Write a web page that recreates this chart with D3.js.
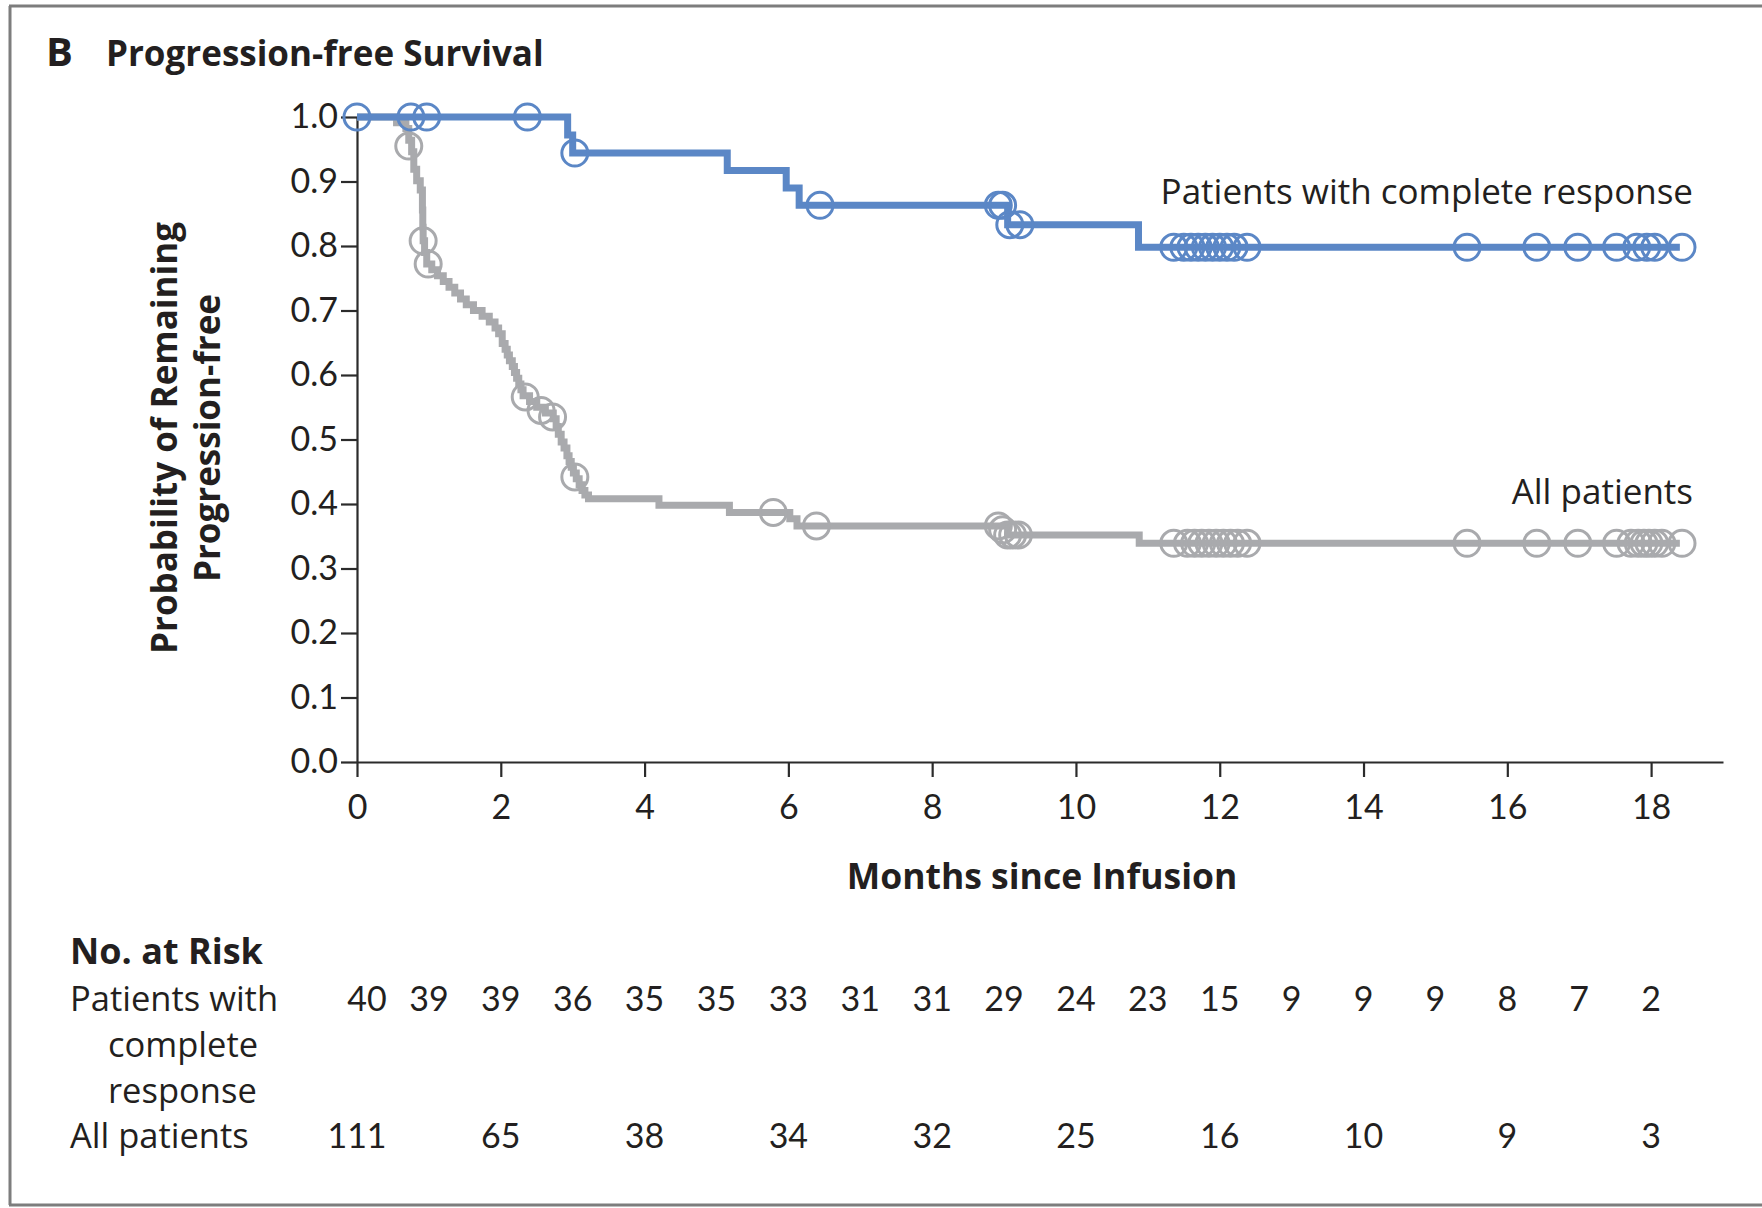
<!DOCTYPE html>
<html>
<head>
<meta charset="utf-8">
<script src="https://cdn.jsdelivr.net/npm/d3@7"></script>
<style>
  body { margin: 0; background: #fff; }
  svg { display: block; }
  text { font-family: "Open Sans", Lato, sans-serif; fill: #231f20; }
  text.num { font-family: Lato, "Open Sans", sans-serif; }
</style>
</head>
<body>
<svg id="chart" width="1762" height="1208"></svg>
<script>
// Kaplan-Meier steps: [month, probability after the step]
const completeSteps = [[0, 1], [2.93, 0.972], [3.0, 0.944], [5.15, 0.917], [5.97, 0.890],
  [6.15, 0.863], [9.05, 0.833], [10.87, 0.798], [18.4, 0.798]];
const allSteps = [[0, 1], [0.55, 0.991], [0.68, 0.982], [0.72, 0.964], [0.76, 0.946], [0.79, 0.919],
  [0.83, 0.901], [0.88, 0.887], [0.91, 0.856], [0.915, 0.829], [0.92, 0.808], [0.94, 0.79],
  [0.97, 0.772], [1.04, 0.763], [1.12, 0.754], [1.2, 0.745], [1.28, 0.736], [1.36, 0.727],
  [1.44, 0.718], [1.52, 0.709], [1.62, 0.70], [1.74, 0.691], [1.84, 0.682], [1.92, 0.673],
  [1.97, 0.664], [2.02, 0.649], [2.06, 0.640], [2.09, 0.631], [2.12, 0.622], [2.16, 0.613],
  [2.19, 0.604], [2.22, 0.595], [2.25, 0.586], [2.28, 0.577], [2.31, 0.568], [2.4, 0.559],
  [2.5, 0.550], [2.62, 0.541], [2.73, 0.532], [2.77, 0.520], [2.8, 0.508], [2.84, 0.496],
  [2.88, 0.487], [2.92, 0.475], [2.95, 0.466], [2.98, 0.457], [3.01, 0.448], [3.05, 0.439],
  [3.09, 0.430], [3.13, 0.421], [3.17, 0.414], [3.22, 0.408], [4.2, 0.398], [5.18, 0.387],
  [6.02, 0.377], [6.12, 0.366], [9.05, 0.352], [10.88, 0.339], [18.4, 0.339]];

// Censored observations: [month, probability]
const completeCensored = [[0, 1], [0.75, 1], [0.97, 1], [2.37, 1], [3.03, 0.944], [6.44, 0.863],
  [8.92, 0.863], [8.98, 0.863], [9.08, 0.833], [9.22, 0.833],
  [11.36, 0.798], [11.5, 0.798], [11.6, 0.798], [11.7, 0.798], [11.8, 0.798], [11.9, 0.798],
  [12.0, 0.798], [12.1, 0.798], [12.2, 0.798], [12.38, 0.798],
  [15.44, 0.798], [16.41, 0.798], [16.98, 0.798], [17.52, 0.798], [17.8, 0.798],
  [17.94, 0.798], [18.05, 0.798], [18.43, 0.798]];
const allCensored = [[0.72, 0.955], [0.92, 0.808], [0.99, 0.772], [2.34, 0.566], [2.56, 0.545],
  [2.72, 0.535], [3.03, 0.442], [5.79, 0.387], [6.39, 0.366],
  [8.92, 0.366], [8.98, 0.360], [9.05, 0.352], [9.12, 0.352], [9.2, 0.352],
  [11.36, 0.339], [11.55, 0.339], [11.65, 0.339], [11.75, 0.339], [11.85, 0.339], [11.95, 0.339],
  [12.05, 0.339], [12.15, 0.339], [12.25, 0.339], [12.38, 0.339],
  [15.44, 0.339], [16.41, 0.339], [16.98, 0.339], [17.52, 0.339], [17.72, 0.339], [17.82, 0.339],
  [17.9, 0.339], [17.97, 0.339], [18.05, 0.339], [18.15, 0.339], [18.43, 0.339]];

const monthTicks = [0, 2, 4, 6, 8, 10, 12, 14, 16, 18];
const probabilityTicks = [0, 0.1, 0.2, 0.3, 0.4, 0.5, 0.6, 0.7, 0.8, 0.9, 1.0];

// Numbers at risk
const riskCompleteMonths = [0, 1, 2, 3, 4, 5, 6, 7, 8, 9, 10, 11, 12, 13, 14, 15, 16, 17, 18];
const riskComplete = [40, 39, 39, 36, 35, 35, 33, 31, 31, 29, 24, 23, 15, 9, 9, 9, 8, 7, 2];
const riskAllMonths = [0, 2, 4, 6, 8, 10, 12, 14, 16, 18];
const riskAll = [111, 65, 38, 34, 32, 25, 16, 10, 9, 3];

const blue = "#5b87c6";
const grey = "#a9aaad";

const svg = d3.select("#chart");

// panel frame
const frame = svg.append("g").attr("stroke", "#7d7d7d").attr("stroke-width", 3);
frame.append("line").attr("x1", 9).attr("x2", 1762).attr("y1", 6).attr("y2", 6);
frame.append("line").attr("x1", 10).attr("x2", 10).attr("y1", 6).attr("y2", 1205);
frame.append("line").attr("x1", 9).attr("x2", 1762).attr("y1", 1205).attr("y2", 1205);

// title
svg.append("text").attr("x", 46).attr("y", 66).attr("font-size", 40).attr("font-weight", 700).text("B");
svg.append("text").attr("x", 106).attr("y", 66).attr("font-size", 35).attr("font-weight", 700)
  .text("Progression-free Survival");

const x = d3.scaleLinear().domain([0, 19]).range([357, 1723]);
const y = d3.scaleLinear().domain([0, 1]).range([762, 117]);

// axes
const xAxis = svg.append("g").attr("transform", `translate(0,${y(0)})`)
  .call(d3.axisBottom(x).tickValues(monthTicks).tickSize(15).tickSizeOuter(0).tickPadding(18).tickFormat(d3.format("d")));
const yAxis = svg.append("g").attr("transform", `translate(${x(0)},0)`)
  .call(d3.axisLeft(y).tickValues(probabilityTicks).tickSize(16).tickSizeOuter(0).tickPadding(3).tickFormat(d3.format(".1f")));
[xAxis, yAxis].forEach(a => {
  a.select(".domain").attr("stroke", "#2b2b2b").attr("stroke-width", 2.2);
  a.selectAll(".tick line").attr("stroke", "#2b2b2b").attr("stroke-width", 2.2);
  a.selectAll(".tick text").attr("class", "num").attr("font-size", 34).attr("fill", "#231f20");
});

// axis titles
svg.append("text").attr("x", 1042).attr("y", 889).attr("text-anchor", "middle")
  .attr("font-size", 35.5).attr("font-weight", 700).text("Months since Infusion");
svg.append("text").attr("transform", "translate(177,438) rotate(-90)").attr("text-anchor", "middle")
  .attr("font-size", 35).attr("font-weight", 700).text("Probability of Remaining");
svg.append("text").attr("transform", "translate(220,438) rotate(-90)").attr("text-anchor", "middle")
  .attr("font-size", 35).attr("font-weight", 700).text("Progression-free");

// survival curves
const km = d3.line().x(d => x(d[0])).y(d => y(d[1])).curve(d3.curveStepAfter);

function drawGroup(steps, censored, color) {
  svg.append("path").datum(steps).attr("d", km).attr("fill", "none")
    .attr("stroke", color).attr("stroke-width", 7);
  svg.append("g").selectAll("circle").data(censored).join("circle")
    .attr("cx", d => x(d[0])).attr("cy", d => y(d[1])).attr("r", 13)
    .attr("fill", "none").attr("stroke", color).attr("stroke-width", 3);
}
drawGroup(allSteps, allCensored, grey);
drawGroup(completeSteps, completeCensored, blue);

// curve labels
svg.append("text").attr("x", 1693).attr("y", 204).attr("text-anchor", "end").attr("font-size", 35)
  .text("Patients with complete response");
svg.append("text").attr("x", 1693).attr("y", 504).attr("text-anchor", "end").attr("font-size", 35)
  .text("All patients");

// numbers at risk
svg.append("text").attr("x", 70).attr("y", 964).attr("font-size", 36).attr("font-weight", 700).text("No. at Risk");
const rowLabels = [["Patients with", 70, 1011], ["complete", 108, 1057], ["response", 108, 1103], ["All patients", 70, 1148]];
svg.append("g").selectAll("text").data(rowLabels).join("text")
  .attr("x", d => d[1]).attr("y", d => d[2]).attr("font-size", 34.5).text(d => d[0]);

svg.append("g").selectAll("text").data(riskComplete).join("text").attr("class", "num")
  .attr("x", (d, i) => x(riskCompleteMonths[i]) + (i === 0 ? 10 : 0)).attr("y", 1011)
  .attr("text-anchor", "middle").attr("font-size", 34).text(d => d);
svg.append("g").selectAll("text").data(riskAll).join("text").attr("class", "num")
  .attr("x", (d, i) => x(riskAllMonths[i])).attr("y", 1148)
  .attr("text-anchor", "middle").attr("font-size", 34).text(d => d);
</script>
</body>
</html>
